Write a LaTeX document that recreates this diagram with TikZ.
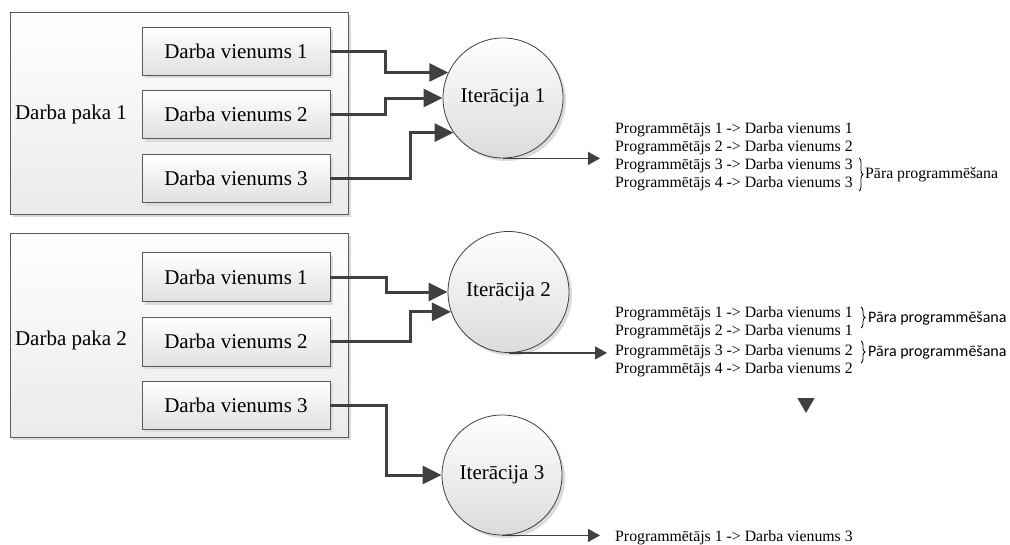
\documentclass[tikz,border=0pt]{standalone}
\usepackage{fontspec}
\setmainfont{Liberation Serif}
\newfontfamily\notefont{Carlito}
\usetikzlibrary{arrows.meta,shadows,shapes.geometric,decorations.pathreplacing,calc}

\definecolor{ink}{HTML}{404040}
\definecolor{edge}{HTML}{5A5A5A}

\tikzset{
  softshadow/.style={drop shadow={shadow xshift=3pt, shadow yshift=-3pt, fill=black!14, opacity=1}},
  pkg/.style={draw=edge, line width=0.8pt, top color=white, bottom color=black!8,
    softshadow, minimum width=338pt, minimum height=202pt, inner sep=0pt},
  pkglabel/.style={inner sep=0pt, font=\fontsize{21}{25}\selectfont},
  unitbox/.style={draw=edge, line width=0.8pt, top color=white, bottom color=black!12,
    softshadow, minimum width=188pt, minimum height=48pt, inner sep=0pt,
    font=\fontsize{21}{25}\selectfont},
  iter/.style={circle, draw=ink, line width=0.8pt, top color=white, bottom color=black!14,
    softshadow, minimum size=120pt, inner sep=0pt, font=\fontsize{21}{25}\selectfont},
  conn/.style={draw=ink, line width=3pt, -{Triangle[length=19pt 0 0,width=18pt 0 0]}},
  outarrow/.style={draw=ink, line width=1.2pt, -{Triangle[length=12pt 0 0,width=13pt 0 0]}},
  listline/.style={anchor=base west, inner sep=0pt, font=\fontsize{15.8}{18}\selectfont},
  pairnote/.style={anchor=west, inner sep=0pt, font=\fontsize{15.8}{18}\selectfont},
  pairnotesans/.style={anchor=west, inner sep=0pt, font=\notefont\fontsize{16}{18}\selectfont},
  pairbrace/.style={draw=black, line width=0.8pt, decorate, decoration={brace, amplitude=4pt}},
  moremark/.style={regular polygon, regular polygon sides=3, shape border rotate=180,
    fill=ink, minimum size=20pt, inner sep=0pt},
}

\begin{document}
\begin{tikzpicture}[x=1pt, y=-1pt]
  \useasboundingbox (0,0) rectangle (1010,544);

  % work package 1
  \node[pkg] (p1) at (179,113) {};
  \node[pkglabel] (p1lab) at (71,114) {Darba paka 1};
  \node[unitbox] (a1) at (236,51) {Darba vienums 1};
  \node[unitbox] (a2) at (236,114.5) {Darba vienums 2};
  \node[unitbox] (a3) at (236,178.5) {Darba vienums 3};

  % work package 2
  \node[pkg, minimum height=204pt] (p2) at (179,335) {};
  \node[pkglabel] (p2lab) at (71,340) {Darba paka 2};
  \node[unitbox, minimum height=49pt] (b1) at (236,277) {Darba vienums 1};
  \node[unitbox, minimum height=49pt] (b2) at (236,341.5) {Darba vienums 2};
  \node[unitbox] (b3) at (236,405) {Darba vienums 3};

  % iterations
  \node[iter] (it1) at (503,98) {Iterācija 1};
  \node[iter, minimum size=121pt] (it2) at (508.5,292) {Iterācija 2};
  \node[iter] (it3) at (502,475) {Iterācija 3};

  % units into iterations
  \draw[conn] (a1.east) -- ++(55,0) |- (it1.155.4);
  \draw[conn] (a2.east) -- ++(55,0) |- (it1.west);
  \draw[conn] (a3.east) -- ++(80,0) |- (it1.215.7);
  \draw[conn] (b1.east) -- ++(56,0) |- (it2.west);
  \draw[conn] (b2.east) -- ++(80,0) |- (it2.199.3);
  \draw[conn] (b3.east) -- ++(56,0) |- (it3.west);

  % assignments after iteration 1
  \node[listline] (l1a) at (615,133) {Programmētājs 1 -> Darba vienums 1};
  \node[listline] (l1b) at (615,151) {Programmētājs 2 -> Darba vienums 2};
  \node[listline] (l1c) at (615,169) {Programmētājs 3 -> Darba vienums 3};
  \node[listline] (l1d) at (615,187) {Programmētājs 4 -> Darba vienums 3};
  \draw[pairbrace] (859,158) -- (859,191);
  \node[pairnote] (n1) at (865,175) {Pāra programmēšana};

  % assignments after iteration 2
  \node[listline] (l2a) at (615,317) {Programmētājs 1 -> Darba vienums 1};
  \node[listline] (l2b) at (615,335.5) {Programmētājs 2 -> Darba vienums 1};
  \node[listline] (l2c) at (615,355) {Programmētājs 3 -> Darba vienums 2};
  \node[listline] (l2d) at (615,373.5) {Programmētājs 4 -> Darba vienums 2};
  \draw[pairbrace] (861,307) -- (861,328);
  \node[pairnotesans] (n2) at (868,318) {Pāra programmēšana};
  \draw[pairbrace] (861,341) -- (861,363);
  \node[pairnotesans] (n3) at (868,352) {Pāra programmēšana};
  \node[moremark] (more) at (806,403) {};

  % assignment after iteration 3
  \node[listline] (l3a) at (615,541.5) {Programmētājs 1 -> Darba vienums 3};

  % iteration outputs
  \coordinate (o1) at (600,158);
  \coordinate (o2) at (607,352);
  \coordinate (o3) at (600,535);
  \draw[outarrow] (it1.south) -- (it1.south -| o1);
  \draw[outarrow] (it2.south) -- (it2.south -| o2);
  \draw[outarrow] (it3.south) -- (it3.south -| o3);
\end{tikzpicture}
\end{document}
